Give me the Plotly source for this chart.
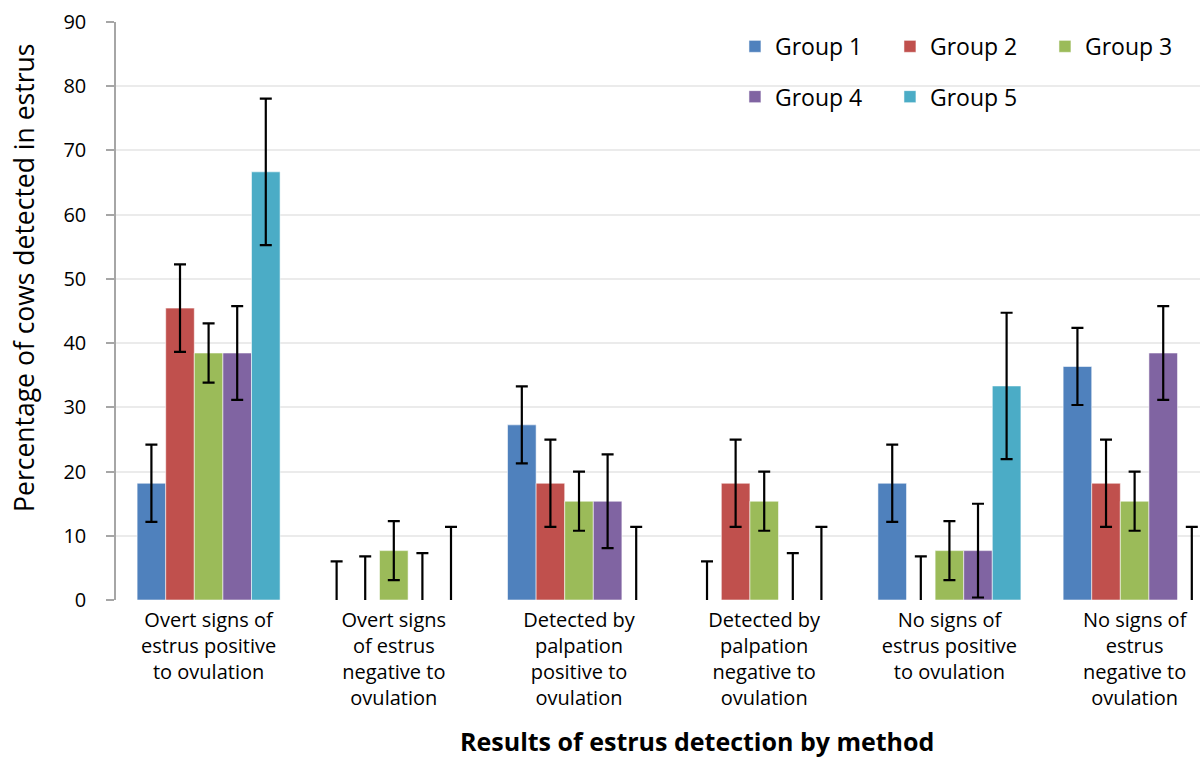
import plotly.graph_objects as go

categories = [
    "Overt signs of<br>estrus positive<br>to ovulation",
    "Overt signs<br>of estrus<br>negative to<br>ovulation",
    "Detected by<br>palpation<br>positive to<br>ovulation",
    "Detected by<br>palpation<br>negative to<br>ovulation",
    "No signs of<br>estrus positive<br>to ovulation",
    "No signs of<br>estrus<br>negative to<br>ovulation",
]
group_names = ["Group 1", "Group 2", "Group 3", "Group 4", "Group 5"]
group1 = [18.18, 0, 27.27, 0, 18.18, 36.36]
group2 = [45.45, 0, 18.18, 18.18, 0, 18.18]
group3 = [38.46, 7.69, 15.38, 15.38, 7.69, 15.38]
group4 = [38.46, 0, 15.38, 0, 7.69, 38.46]
group5 = [66.67, 0, 0, 0, 33.33, 0]
err1 = [6.0, 6.0, 6.0, 6.0, 6.0, 6.0]
err2 = [6.8, 6.8, 6.8, 6.8, 6.8, 6.8]
err3 = [4.6, 4.6, 4.6, 4.6, 4.6, 4.6]
err4 = [7.3, 7.3, 7.3, 7.3, 7.3, 7.3]
err5 = [11.4, 11.4, 11.4, 11.4, 11.4, 11.4]
y_ticks = [0, 10, 20, 30, 40, 50, 60, 70, 80, 90]

colors = ["#4F81BD", "#C0504D", "#9BBB59", "#8064A2", "#4BACC6"]
values = [group1, group2, group3, group4, group5]
errors = [err1, err2, err3, err4, err5]
legends = ["legend", "legend", "legend", "legend2", "legend2"]

FONT = "Open Sans"

fig = go.Figure()
for name, vals, errs, col, lg in zip(group_names, values, errors, colors, legends):
    fig.add_trace(go.Bar(
        name=name, x=categories, y=vals,
        marker=dict(color=col, line=dict(color="rgba(255,255,255,0.55)", width=1)),
        error_y=dict(type="data", array=errs, visible=True, color="black",
                     thickness=2.2, width=6),
        legend=lg,
    ))

fig.add_shape(type="rect", xref="paper", yref="paper", x0=0.5605, x1=1.0,
              y0=0.815, y1=0.998, fillcolor="white", line=dict(width=0),
              layer="between")

fig.update_layout(
    width=1200, height=759,
    margin=dict(l=116, r=0, t=22, b=159, autoexpand=False),
    paper_bgcolor="white", plot_bgcolor="white",
    barmode="group", bargap=0.228, bargroupgap=0,
    font=dict(family=FONT, color="black"),
    showlegend=True,
    legend=dict(orientation="h", x=0.571, y=0.995, xanchor="left", yanchor="top",
                entrywidth=110, entrywidthmode="pixels",
                font=dict(size=23, family=FONT), bgcolor="rgba(0,0,0,0)"),
    legend2=dict(orientation="h", x=0.571, y=0.908, xanchor="left", yanchor="top",
                 entrywidth=110, entrywidthmode="pixels",
                 font=dict(size=23, family=FONT), bgcolor="rgba(0,0,0,0)"),
    xaxis=dict(type="category", range=[-0.5, 5.353], showgrid=False,
               tickfont=dict(size=20, family=FONT), ticks="", ticklabelstandoff=6,
               showline=False, zeroline=False, automargin=False),
    yaxis=dict(range=[0, 90], tickvals=y_ticks, showgrid=True, gridcolor="#ebebeb",
               gridwidth=1.5, showline=True, linecolor="#a6a6a6", linewidth=1.5,
               ticks="outside", ticklen=8, tickcolor="#a6a6a6", tickwidth=1.5,
               tickfont=dict(size=20, family=FONT), ticklabelstandoff=16,
               zeroline=False, automargin=False),
    annotations=[
        dict(text="Percentage of cows detected in estrus", xref="paper", yref="paper",
             x=-0.085, y=0.557, xanchor="center", yanchor="middle", textangle=-90,
             showarrow=False, font=dict(size=26.5, family=FONT)),
        dict(text="<b>Results of estrus detection by method</b>", xref="paper", yref="paper",
             x=0.536, y=-0.244, xanchor="center", yanchor="middle", borderpad=0,
             showarrow=False, font=dict(size=25, family=FONT)),
    ],
)

fig.write_html("out.html", config={"displayModeBar": False},
               post_script="document.body.style.margin='0';")
